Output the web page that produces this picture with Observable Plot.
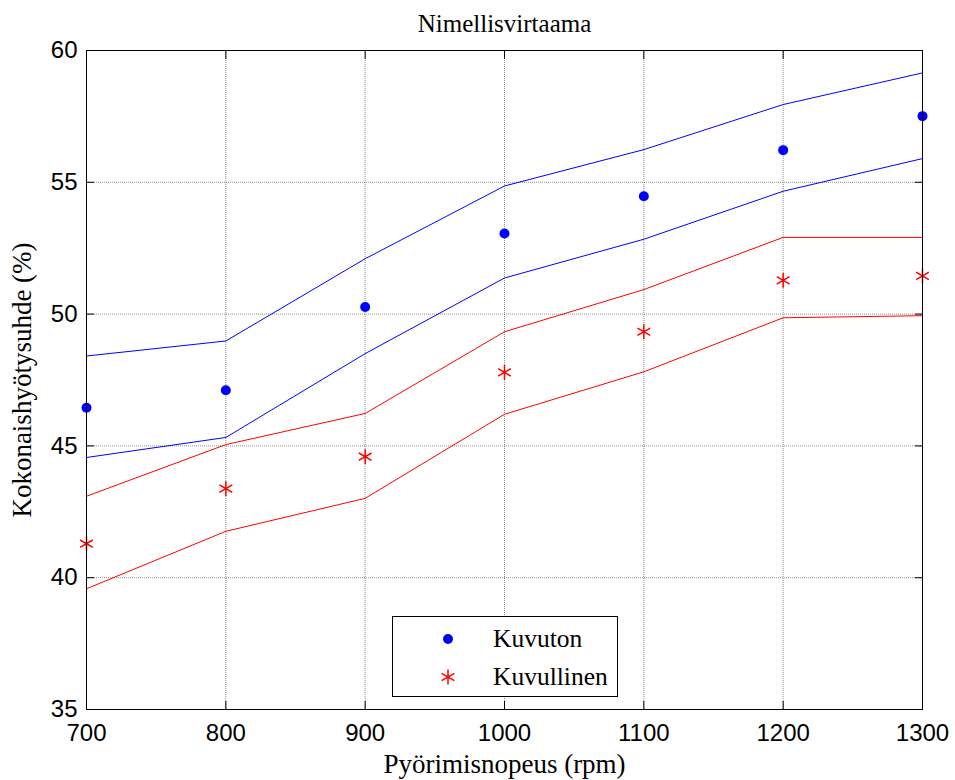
<!DOCTYPE html>
<html>
<head>
<meta charset="utf-8">
<script src="https://cdn.jsdelivr.net/npm/d3@7"></script>
<script src="https://cdn.jsdelivr.net/npm/@observablehq/plot@0.6"></script>
<style>
  html, body { margin: 0; padding: 0; background: #fff; }
  #wrap { position: relative; width: 955px; height: 780px; }
  #legend {
    position: absolute; left: 392px; top: 616px; width: 226px; height: 81px;
    border: 1px solid #000; background: #fff; box-sizing: border-box;
    font-family: "Liberation Serif", "Times New Roman", serif; font-size: 25.5px;
  }
  #legend .row { position: absolute; left: 0; height: 30px; display: flex; align-items: center; }
  #legend svg { position: absolute; left: 44px; }
  #legend span { position: absolute; left: 100px; white-space: nowrap; }
</style>
</head>
<body>
<div id="wrap"></div>
<script>
// ---- data ----
const speeds = [700, 800, 900, 1000, 1100, 1200, 1300];
const kuvuton = [46.45, 47.11, 50.27, 53.06, 54.47, 56.22, 57.51];
const kuvutonUpper = [48.41, 48.98, 52.10, 54.86, 56.24, 57.95, 59.15];
const kuvutonLower = [44.56, 45.32, 48.50, 51.37, 52.84, 54.66, 55.90];
const kuvullinen = [41.29, 43.38, 44.59, 47.79, 49.33, 51.28, 51.45];
const kuvullinenUpper = [43.09, 45.05, 46.23, 49.33, 50.93, 52.91, 52.91];
const kuvullinenLower = [39.58, 41.76, 43.01, 46.20, 47.81, 49.86, 49.94];
const xTicks = [700, 800, 900, 1000, 1100, 1200, 1300];
const yTicks = [35, 40, 45, 50, 55, 60];
const titleText = "Nimellisvirtaama";
const xLabel = "Pyörimisnopeus (rpm)";
const yLabel = "Kokonaishyötysuhde (%)";
const legendLabels = ["Kuvuton", "Kuvullinen"];

const toRows = (vals) => speeds.map((x, i) => ({x, y: vals[i]}));

const serif = "'Liberation Serif', 'Times New Roman', serif";
const sans = "'Liberation Sans', Arial, sans-serif";
const noText = () => "";
const plain = (d) => String(d);

const chart = Plot.plot({
  width: 955,
  height: 780,
  marginLeft: 86,
  marginRight: 33,
  marginTop: 50,
  marginBottom: 71,
  style: {background: "#fff", fontFamily: sans},
  x: {domain: [700, 1300]},
  y: {domain: [35, 60]},
  marks: [
    Plot.gridX(xTicks, {stroke: "#000", strokeOpacity: 0.45, strokeDasharray: "1,1"}),
    Plot.gridY(yTicks, {stroke: "#000", strokeOpacity: 0.45, strokeDasharray: "1,1"}),
    Plot.line(toRows(kuvutonUpper), {x: "x", y: "y", stroke: "#0000ff", strokeWidth: 1}),
    Plot.line(toRows(kuvutonLower), {x: "x", y: "y", stroke: "#0000ff", strokeWidth: 1}),
    Plot.line(toRows(kuvullinenUpper), {x: "x", y: "y", stroke: "#ff0000", strokeWidth: 1}),
    Plot.line(toRows(kuvullinenLower), {x: "x", y: "y", stroke: "#ff0000", strokeWidth: 1}),
    Plot.dot(toRows(kuvuton), {x: "x", y: "y", r: 5, fill: "#0000ff"}),
    Plot.dot(toRows(kuvullinen), {x: "x", y: "y", r: 7, symbol: "asterisk", stroke: "#ff0000", strokeWidth: 1.5}),
    Plot.frame({stroke: "#000", strokeWidth: 1}),
    // tick labels
    Plot.axisX(xTicks, {anchor: "bottom", tickSize: 0, tickPadding: 14, fontSize: 24, fill: "#000", label: null, tickFormat: plain}),
    Plot.axisY(yTicks, {anchor: "left", tickSize: 0, tickPadding: 9, fontSize: 24, fill: "#000", label: null, tickFormat: plain}),
    // inward ticks on all four sides
    Plot.axisX(xTicks, {anchor: "bottom", tickSize: -8, tickFormat: noText, label: null, stroke: "#000"}),
    Plot.axisX(xTicks, {anchor: "top", tickSize: -8, tickFormat: noText, label: null, stroke: "#000"}),
    Plot.axisY(yTicks, {anchor: "left", tickSize: -8, tickFormat: noText, label: null, stroke: "#000"}),
    Plot.axisY(yTicks, {anchor: "right", tickSize: -8, tickFormat: noText, label: null, stroke: "#000"}),
    // title and axis labels
    Plot.text([titleText], {frameAnchor: "top", textAnchor: "middle", dy: -36, fontSize: 25, fontFamily: serif, fill: "#000"}),
    Plot.text([xLabel], {frameAnchor: "bottom", textAnchor: "middle", dy: 63, fontSize: 27, fontFamily: serif, fill: "#000"}),
    Plot.text([yLabel], {frameAnchor: "left", textAnchor: "middle", dx: -64, rotate: -90, fontSize: 27, fontFamily: serif, fill: "#000"})
  ]
});

const wrap = document.getElementById("wrap");
wrap.appendChild(chart);

// legend
const legend = document.createElement("div");
legend.id = "legend";
const ast = d3.symbol(d3.symbolAsterisk, 7 * 7 * Math.PI)();
legend.innerHTML = `
  <div class="row" style="top:7px;width:100%">
    <svg width="22" height="22" viewBox="-11 -11 22 22"><circle r="5" fill="#0000ff"/></svg>
    <span>${legendLabels[0]}</span>
  </div>
  <div class="row" style="top:45px;width:100%">
    <svg width="22" height="22" viewBox="-11 -11 22 22"><path d="${ast}" stroke="#ff0000" stroke-width="1.5" fill="none"/></svg>
    <span>${legendLabels[1]}</span>
  </div>`;
wrap.appendChild(legend);
</script>
</body>
</html>
